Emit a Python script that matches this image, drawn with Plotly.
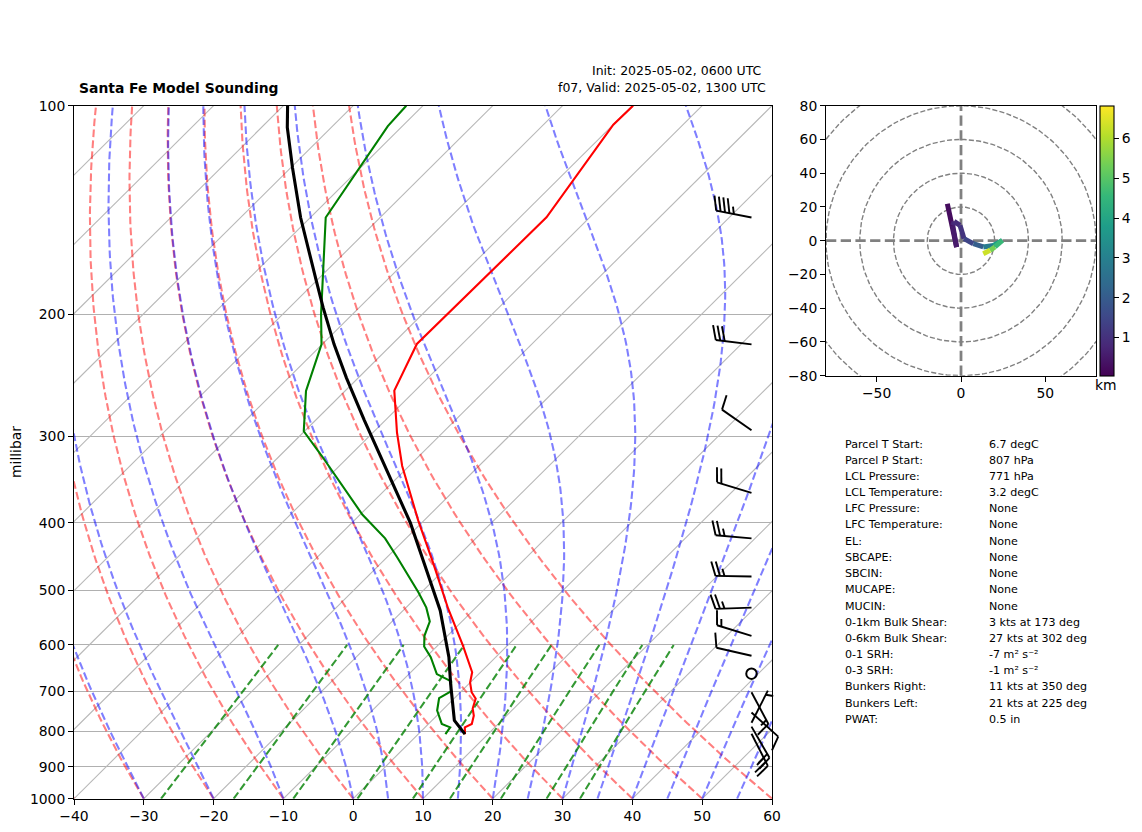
import numpy as np
import plotly.graph_objects as go
from plotly.colors import sample_colorscale

W, H = 1142, 832
FONT = "DejaVu Sans"

# ---- sounding data ----
temp_p = [100, 106.5, 144.9, 220.7, 257.7, 296, 331, 397, 453.5, 532, 601, 657, 680, 702, 717, 741, 759, 780, 789, 807]
temp_c = [-59.9, -60.0, -56.2, -56.5, -53.0, -46.6, -41.0, -30.8, -23.0, -13.8, -6.4, -1.2, 0.0, 1.6, 3.1, 4.1, 5.3, 6.2, 5.7, 6.7]
dewp_p = [100, 107, 145, 175, 200, 221, 258, 295, 320, 389, 421, 448, 479, 504, 530, 555, 582, 603, 625, 661, 677, 700, 716, 746, 780, 789, 807]
dewp_c = [-92.4, -92.1, -87.8, -80.0, -74.5, -70.1, -65.6, -60.1, -54.0, -39.7, -33.0, -28.6, -24.0, -20.4, -17.1, -14.6, -13.3, -11.8, -9.3, -6.0, -2.9, -1.5, -2.2, -0.7, 1.9, 3.6, 3.9]
parcel_p = [100, 107.5, 123, 145, 179, 195.5, 221, 247, 284, 331, 400, 453.5, 490, 535, 625, 683, 771, 807]
parcel_c = [-109.4, -106.3, -99.7, -91.4, -80.0, -75.2, -68.3, -61.7, -53.1, -43.5, -31.6, -24.3, -19.8, -14.7, -6.7, -2.6, 3.2, 6.7]

# ---- reference lines ----
pressure_ticks = [100, 200, 300, 400, 500, 600, 700, 800, 900, 1000]
temp_ticks = [-40, -30, -20, -10, 0, 10, 20, 30, 40, 50, 60]
isotherms = list(range(-130, 70, 10))
dry_start = list(range(-40, 70, 10))
moist_start = [-30, -20, -10, 0, 5, 10, 15, 20, 25, 30, 35, 40, 45, 50, 55]
mixing_ratios = [0.0004, 0.001, 0.002, 0.004, 0.007, 0.01, 0.016, 0.024, 0.032]

# ---- wind barbs ----
barb_p = [145, 221, 294, 362, 421, 478, 530, 582, 622, 660, 702, 751, 777, 787, 806]
barb_dir = [281, 277, 305, 287, 275, 271, 268, 287, 283, 0, 152, 132, 27, 150, 153]
barb_kt = [45, 30, 10, 20, 25, 25, 25, 15, 10, 0, 15, 10, 5, 20, 25]

# ---- hodograph ----
hodo_u = [-8.1, -2.6, -4.9, -4.1, -0.6, 1.8, 7.3, 13.2, 19.2, 24.5, 20.1, 17.2, 13.2]
hodo_v = [21.9, -3.8, 9.1, 11.4, 9.1, 1.2, -1.8, -3.7, -2.8, 0.2, -3.7, -5.7, -7.7]
hodo_z = [0.04, 0.45, 0.65, 0.8, 0.95, 1.2, 1.7, 2.4, 3.3, 4.2, 5.0, 5.8, 6.82]
hodo_rings = [20, 40, 60, 80, 100]
hodo_y_ticks = [-80, -60, -40, -20, 0, 20, 40, 60, 80]
hodo_x_ticks = [-50, 0, 50]
cbar_ticks = [1, 2, 3, 4, 5, 6]

# ---- table ----
table_labels = ["Parcel T Start:", "Parcel P Start:", "LCL Pressure:", "LCL Temperature:", "LFC Pressure:",
                "LFC Temperature:", "EL:", "SBCAPE:", "SBCIN:", "MUCAPE:", "MUCIN:", "0-1km Bulk Shear:",
                "0-6km Bulk Shear:", "0-1 SRH:", "0-3 SRH:", "Bunkers Right:", "Bunkers Left:", "PWAT:"]
table_values = ["6.7 degC", "807 hPa", "771 hPa", "3.2 degC", "None", "None", "None", "None", "None", "None",
                "None", "3 kts at 173 deg", "27 kts at 302 deg", "-7 m² s⁻²", "-1 m² s⁻²",
                "11 kts at 350 deg", "21 kts at 225 deg", "0.5 in"]
table_y = [444.3, 460.3, 476.3, 492.3, 508.3, 524.3, 541, 557, 573, 589.3, 606, 622.3, 638.3, 654, 670, 686.5, 703, 719.3]

# ---- skew transform ----
SKEW = 100.0


def skewed(t, p):
    return np.asarray(t, float) + SKEW * np.log10(1000.0 / np.asarray(p, float))


P_FINE = np.geomspace(1000, 100, 120)
Rd, Cp, Lv, EPS = 287.05, 1005.0, 2.501e6, 0.622


def es(tk):
    return 611.2 * np.exp(17.67 * (tk - 273.15) / (tk - 29.65))


def moist_rate(tk, p):
    rs = EPS * es(tk) / (p * 100.0 - es(tk))
    return (Rd * tk + Lv * rs) / (Cp + Lv * Lv * rs * EPS / (Rd * tk * tk))


def moist_profile(t0):
    out = [t0 + 273.15]
    lp = np.log(P_FINE)
    for i in range(len(P_FINE) - 1):
        h = lp[i + 1] - lp[i]
        T = out[-1]
        pm = np.exp(lp[i] + h / 2)
        k1 = moist_rate(T, P_FINE[i])
        k2 = moist_rate(T + h * k1 / 2, pm)
        k3 = moist_rate(T + h * k2 / 2, pm)
        k4 = moist_rate(T + h * k3, P_FINE[i + 1])
        out.append(T + h * (k1 + 2 * k2 + 2 * k3 + k4) / 6)
    return np.array(out) - 273.15


fig = go.Figure()


def add_line(x, y, color, width, dash=None, xa="x", ya="y"):
    fig.add_trace(go.Scatter(x=x, y=y, mode="lines", xaxis=xa, yaxis=ya, hoverinfo="skip",
                             line=dict(color=color, width=width, dash=dash)))


DASH = "7.7px,3.3px"
for t in isotherms:
    add_line(skewed(t, [1000, 100]), [1000, 100], "#b8b8b8", 1.1)
for t0 in dry_start:
    add_line(skewed((t0 + 273.15) * (P_FINE / 1000) ** 0.2857 - 273.15, P_FINE), P_FINE, "rgba(255,0,0,0.5)", 2.08, DASH)
for t0 in moist_start:
    add_line(skewed(moist_profile(t0), P_FINE), P_FINE, "rgba(0,0,255,0.5)", 2.08, DASH)
P_MIX = np.geomspace(1000, 600, 30)
for w in mixing_ratios:
    e = w * P_MIX / (EPS + w)
    ln = np.log(e / 6.112)
    add_line(skewed(243.5 * ln / (17.67 - ln), P_MIX), P_MIX, "rgba(0,128,0,0.8)", 2.08, DASH)

add_line(skewed(temp_c, temp_p), temp_p, "#ff0000", 2.1)
add_line(skewed(dewp_c, dewp_p), dewp_p, "#008000", 2.1)
add_line(skewed(parcel_c, parcel_p), parcel_p, "#000000", 3.1)

# wind barbs on a pixel-scaled axis pair, a little wider than the main box so tips can pass the spine
BOX_W, BOX_H = 726.0, 693.0
BARB_X, BL = 677.5, 36.0
bx, by, cx, cy = [], [], [], []
for p, d, s in zip(barb_p, barb_dir, barb_kt):
    y0 = BOX_H * np.log10(p / 100.0)
    if s == 0:
        cx.append(BARB_X)
        cy.append(y0)
        continue
    a = np.radians(d)
    ux, uy = np.sin(a), -np.cos(a)     # from base towards the tip, screen sense
    nx, ny = np.cos(a), np.sin(a)      # feather side
    bx += [BARB_X, BARB_X + BL * ux, None]
    by += [y0, y0 + BL * uy, None]
    pos = BL
    rnd = int(5 * round(s / 5))
    fulls, half = rnd // 10, (rnd % 10) // 5
    if fulls == 0 and half:
        pos -= 0.125 * BL
    for _ in range(fulls):
        tx = BARB_X + pos * ux
        ty = y0 + pos * uy
        bx += [tx, tx + 0.4 * BL * nx + 0.125 * BL * ux, None]
        by += [ty, ty + 0.4 * BL * ny + 0.125 * BL * uy, None]
        pos -= 0.125 * BL
    if half:
        tx = BARB_X + pos * ux
        ty = y0 + pos * uy
        bx += [tx, tx + 0.2 * BL * nx + 0.0625 * BL * ux, None]
        by += [ty, ty + 0.2 * BL * ny + 0.0625 * BL * uy, None]
add_line(bx, by, "#000000", 1.9, None, "x3", "y3")
fig.add_trace(go.Scatter(x=cx, y=cy, mode="markers", xaxis="x3", yaxis="y3", hoverinfo="skip", cliponaxis=False,
                         marker=dict(symbol="circle-open", size=10.5, color="#000000", line=dict(width=2, color="#000000"))))

# hodograph
th = np.radians(np.arange(0, 361, 2))
for r in hodo_rings:
    add_line(r * np.cos(th), r * np.sin(th), "#808080", 1.39, "5.1px,2.2px", "x2", "y2")
add_line([-80, 80], [0, 0], "#808080", 2.78, "10.3px,4.4px", "x2", "y2")
add_line([0, 0], [-80, 80], "#808080", 2.78, "10.3px,4.4px", "x2", "y2")
ZMIN, ZMAX = 0.04, 6.82
for i in range(len(hodo_u) - 1):
    zm = 0.5 * (hodo_z[i] + hodo_z[i + 1])
    col = sample_colorscale("Viridis", [(zm - ZMIN) / (ZMAX - ZMIN)])[0]
    fig.add_trace(go.Scatter(x=hodo_u[i:i + 2], y=hodo_v[i:i + 2], mode="lines", xaxis="x2", yaxis="y2",
                             hoverinfo="skip", line=dict(color=col, width=5.0)))


def px(x):
    return x / W


def py(y):
    return 1 - (y + 0.7) / H


fig.add_trace(go.Scatter(
    x=hodo_u, y=hodo_v, mode="markers", xaxis="x2", yaxis="y2", hoverinfo="skip",
    marker=dict(size=0.1, color=hodo_z, colorscale="Viridis", cmin=ZMIN, cmax=ZMAX, showscale=True,
                colorbar=dict(x=1100 / W, xanchor="left", xpad=0, y=py(240), yanchor="middle", ypad=0,
                              len=270 / H, lenmode="fraction", thickness=14, thicknessmode="pixels",
                              outlinewidth=1.1, outlinecolor="#000000", ticks="outside", ticklen=4.9, tickwidth=1.1,
                              tickcolor="#000000", tickvals=cbar_ticks, ticktext=[str(v) for v in cbar_ticks],
                              tickfont=dict(family=FONT, size=13.9, color="#000000")))))

axis_common = dict(showline=True, linecolor="#000000", linewidth=1.1, mirror=True, ticks="outside", ticklen=4.9,
                   tickwidth=1.1, tickcolor="#000000", zeroline=False, automargin=False, tickangle=0,
                   tickfont=dict(family=FONT, size=13.9, color="#000000"))

annots = []


def text(x, y, s, size=11.1, anchor="left", bold=False, angle=0):
    annots.append(dict(x=px(x), y=1 - y / H, xref="paper", yref="paper", text=f"<b>{s}</b>" if bold else s,
                       showarrow=False, xanchor=anchor, yanchor="middle", textangle=angle, borderpad=0,
                       font=dict(family=FONT, size=size, color="#000000")))


text(78, 87.5, "Santa Fe Model Sounding", 13.9, bold=True)
text(763, 70.5, "Init: 2025-05-02, 0600 UTC", 12.5, "right")
text(767, 88, "f07, Valid: 2025-05-02, 1300 UTC", 12.5, "right")
text(16, 452, "millibar", 13.9, "center", angle=-90)
text(1106, 384.5, "km", 13.9, "center")
for lab, val, y in zip(table_labels, table_values, table_y):
    text(844, y, lab)
    text(988, y, val)

fig.update_layout(
    width=W, height=H, autosize=False, showlegend=False, hovermode=False,
    margin=dict(l=0, r=0, t=0, b=0), paper_bgcolor="#ffffff", plot_bgcolor="rgba(0,0,0,0)",
    annotations=annots,
    xaxis=dict(domain=[px(74), px(772)], range=[-40, 60], tickvals=temp_ticks,
               ticktext=[str(v).replace("-", "\u2212") for v in temp_ticks], showgrid=False, anchor="y", **axis_common),
    yaxis=dict(domain=[py(798), py(105)], type="log", range=[3, 2], tickvals=pressure_ticks,
               ticktext=[str(v) for v in pressure_ticks], showgrid=True, gridcolor="#b0b0b0", gridwidth=1.1,
               anchor="x", **axis_common),
    xaxis2=dict(domain=[px(826), px(1096)], range=[-80, 80], tickvals=hodo_x_ticks,
                ticktext=[str(v).replace("-", "\u2212") for v in hodo_x_ticks], showgrid=False, anchor="y2", **axis_common),
    yaxis2=dict(domain=[py(375), py(105)], range=[-80, 80], tickvals=hodo_y_ticks,
                ticktext=[str(v).replace("-", "\u2212") for v in hodo_y_ticks], showgrid=False, anchor="x2", **axis_common),
    xaxis3=dict(domain=[px(74), px(800)], range=[0, BOX_W], visible=False, anchor="y3", automargin=False),
    yaxis3=dict(domain=[py(798), py(105)], range=[BOX_H, 0], visible=False, anchor="x3", automargin=False),
)

fig.write_html("out.html", config={"displayModeBar": False},
               post_script="document.body.style.margin='0';document.documentElement.style.overflow='hidden';")
